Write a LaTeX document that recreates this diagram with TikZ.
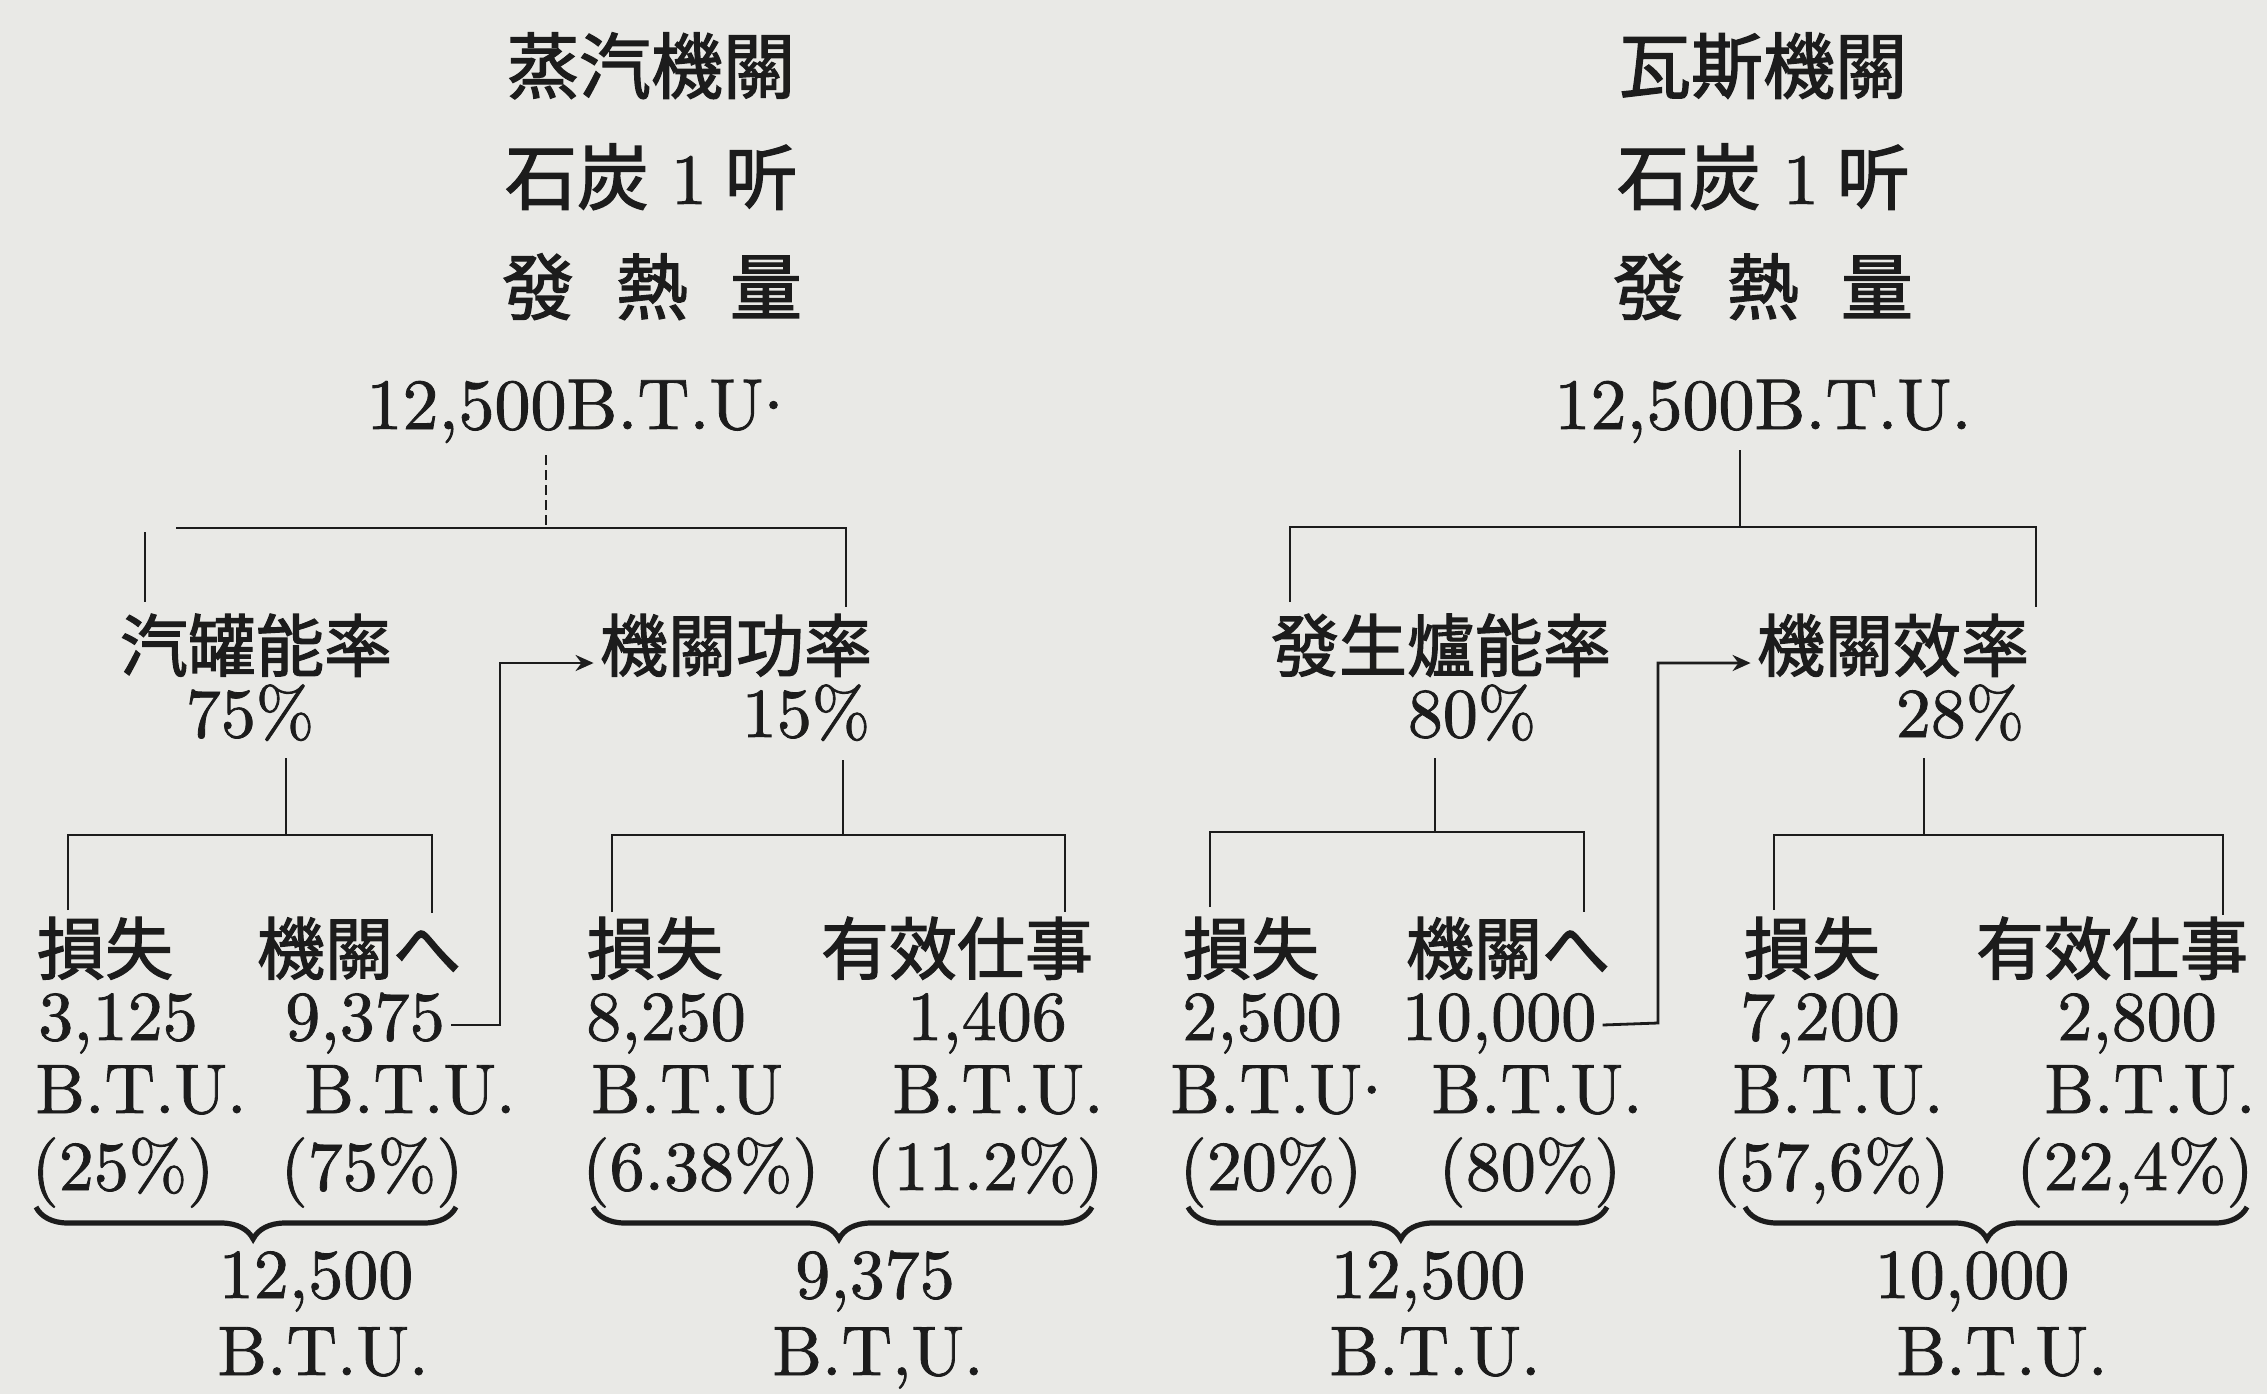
\documentclass[tikz,border=0pt]{standalone}
\usepackage{fontspec}
\setmainfont{lmroman10-regular.otf}[FakeBold=1.2]
\newfontfamily\cjk[FakeBold=1.8]{Noto Sans CJK JP}
\usetikzlibrary{arrows.meta,decorations.pathreplacing}
\definecolor{paper}{RGB}{233,233,230}
\definecolor{ink}{RGB}{28,28,28}
\newcommand\midpt{\raisebox{0.28em}{.}}
\newcommand\onelb{\hspace{11pt}{\normalfont\fontsize{36}{40}\selectfont 1}\hspace{9pt}}
\begin{document}
\begin{tikzpicture}[x=0.5pt,y=-0.5pt,
  tt/.style={anchor=base,inner sep=0pt,text=ink,font=\cjk\fontsize{36}{40}\selectfont},
  kj/.style={anchor=base,inner sep=0pt,text=ink,font=\cjk\fontsize{34}{40}\selectfont},
  lt/.style={anchor=base,inner sep=0pt,text=ink,font=\fontsize{35}{40}\selectfont},
  ht/.style={anchor=base,inner sep=0pt,text=ink,font=\fontsize{36}{40}\selectfont},
  ln/.style={draw=ink,line width=1.4pt},
  dl/.style={draw=ink,line width=1.2pt,dash pattern=on 5pt off 2.5pt},
  arr/.style={draw=ink,line width=1.4pt,-{Stealth[length=9pt,width=8pt]}},
  brc/.style={draw=ink,line width=2.6pt,decorate,decoration={brace,mirror,amplitude=16pt,aspect=#1}}]
\fill[paper] (0,0) rectangle (2267,1394);
\useasboundingbox (0,0) rectangle (2267,1394);

% ---------- left block ----------
\node[tt] (lt1) at (651,93) {蒸汽機關};
\node[tt] (lt2) at (651,204) {石炭\onelb 听};
\node[tt] (lt3) at (652,314) {發\hspace{21pt}熱\hspace{21pt}量};
\node[ht] (lsrc) at (575,429) {12,500B.T.U\midpt};

\node[kj] (lboil) at (256,671) {汽罐能率};
\node[lt] (lboilp) at (250,737) {75\%};
\node[kj] (leng) at (736,671) {機關功率};
\node[lt] (lengp) at (806,737) {15\%};

\node[kj] (la1) at (105,974) {損失};
\node[kj] (la2) at (359,974) {機關へ};
\node[lt] (la1n) at (118,1040) {3,125};
\node[lt] (la2n) at (365,1040) {9,375};
\node[lt] (la1u) at (141,1113) {B.T.U.};
\node[lt] (la2u) at (410,1113) {B.T.U.};
\node[lt] (la1p) at (123,1190) {(25\%)};
\node[lt] (la2p) at (372,1190) {(75\%)};
\node[lt] (lat) at (316,1298) {12,500};
\node[lt] (latu) at (323,1375) {B.T.U.};

\node[kj] (lb1) at (655,974) {損失};
\node[kj] (lb2) at (957,974) {有效仕事};
\node[lt] (lb1n) at (666,1040) {8,250};
\node[lt] (lb2n) at (987,1040) {1,406};
\node[lt] (lb1u) at (687,1113) {B.T.U};
\node[lt] (lb2u) at (998,1113) {B.T.U.};
\node[lt] (lb1p) at (701,1190) {(6.38\%)};
\node[lt] (lb2p) at (985,1190) {(11.2\%)};
\node[lt] (lbt) at (875,1298) {9,375};
\node[lt] (lbtu) at (878,1375) {B.T,U.};

% ---------- right block ----------
\node[tt] (rt1) at (1763,93) {瓦斯機關};
\node[tt] (rt2) at (1763,204) {石炭\onelb 听};
\node[tt] (rt3) at (1763,314) {發\hspace{21pt}熱\hspace{21pt}量};
\node[ht] (rsrc) at (1763,429) {12,500B.T.U.};

\node[kj] (rgen) at (1441,671) {發生爐能率};
\node[lt] (rgenp) at (1472,737) {80\%};
\node[kj] (reng) at (1893,671) {機關效率};
\node[lt] (rengp) at (1960,737) {28\%};

\node[kj] (ra1) at (1251,974) {損失};
\node[kj] (ra2) at (1508,974) {機關へ};
\node[lt] (ra1n) at (1262,1040) {2,500};
\node[lt] (ra2n) at (1499,1040) {10,000};
\node[lt] (ra1u) at (1276,1113) {B.T.U\midpt};
\node[lt] (ra2u) at (1537,1113) {B.T.U.};
\node[lt] (ra1p) at (1271,1190) {(20\%)};
\node[lt] (ra2p) at (1530,1190) {(80\%)};
\node[lt] (rat) at (1428,1298) {12,500};
\node[lt] (ratu) at (1435,1375) {B.T.U.};

\node[kj] (rb1) at (1812,974) {損失};
\node[kj] (rb2) at (2112,974) {有效仕事};
\node[lt] (rb1n) at (1820,1040) {7,200};
\node[lt] (rb2n) at (2137,1040) {2,800};
\node[lt] (rb1u) at (1838,1113) {B.T.U.};
\node[lt] (rb2u) at (2150,1113) {B.T.U.};
\node[lt] (rb1p) at (1831,1190) {(57,6\%)};
\node[lt] (rb2p) at (2135,1190) {(22,4\%)};
\node[lt] (rbt) at (1972,1298) {10,000};
\node[lt] (rbtu) at (2002,1375) {B.T.U.};

% ---------- connector coordinates ----------
% left top
\coordinate (lAt) at (546,455);  \coordinate (lAm) at (546,528);
\coordinate (lAl) at (176,528);  \coordinate (lAr) at (846,528);
\coordinate (lAlt) at (145,532); \coordinate (lAlb) at (145,602);
\coordinate (lArb) at (846,607);
% left lower-left
\coordinate (lBt) at (286,758);  \coordinate (lBm) at (286,835);
\coordinate (lBl) at (68,835);   \coordinate (lBr) at (432,835);
\coordinate (lBlb) at (68,910);  \coordinate (lBrb) at (432,913);
% left lower-right
\coordinate (lCt) at (843,760);  \coordinate (lCm) at (843,835);
\coordinate (lCl) at (612,835);  \coordinate (lCr) at (1065,835);
\coordinate (lClb) at (612,912); \coordinate (lCrb) at (1065,912);
% left route
\coordinate (lR1) at (500,1025); \coordinate (lR2) at (500,663);
% right top
\coordinate (rAt) at (1740,450); \coordinate (rAm) at (1740,527);
\coordinate (rAl) at (1290,527); \coordinate (rAr) at (2036,527);
\coordinate (rAlb) at (1290,602); \coordinate (rArb) at (2036,607);
% right lower-left
\coordinate (rBt) at (1435,758); \coordinate (rBm) at (1435,832);
\coordinate (rBl) at (1210,832); \coordinate (rBr) at (1584,832);
\coordinate (rBlb) at (1210,907); \coordinate (rBrb) at (1584,912);
% right lower-right
\coordinate (rCt) at (1924,758); \coordinate (rCm) at (1924,835);
\coordinate (rCl) at (1774,835); \coordinate (rCr) at (2223,835);
\coordinate (rClb) at (1774,910); \coordinate (rCrb) at (2223,915);
% right route
\coordinate (rR1) at (1658,1023); \coordinate (rR2) at (1658,663);
% braces
\coordinate (bAl) at (36,1207);   \coordinate (bAr) at (456,1207);
\coordinate (bBl) at (593,1207);  \coordinate (bBr) at (1092,1207);
\coordinate (bCl) at (1188,1207); \coordinate (bCr) at (1607,1207);
\coordinate (bDl) at (1745,1207); \coordinate (bDr) at (2247,1207);

% ---------- connectors ----------
\draw[dl] (lAt) -- (lAm);
\draw[ln] (lAl) -- (lAr) -- (lArb);
\draw[ln] (lAlt) -- (lAlb);
\draw[ln] (lBt) -- (lBm);
\draw[ln] (lBlb) -- (lBl) -- (lBr) -- (lBrb);
\draw[ln] (lCt) -- (lCm);
\draw[ln] (lClb) -- (lCl) -- (lCr) -- (lCrb);
\draw[arr] ([shift={(6,-15)}]la2n.base east) -- (lR1) -- (lR2) -- ([xshift=-3pt]leng.west |- lR2);

\draw[ln] (rAt) -- (rAm);
\draw[ln] (rAlb) -- (rAl) -- (rAr) -- (rArb);
\draw[ln] (rBt) -- (rBm);
\draw[ln] (rBlb) -- (rBl) -- (rBr) -- (rBrb);
\draw[ln] (rCt) -- (rCm);
\draw[ln] (rClb) -- (rCl) -- (rCr) -- (rCrb);
\draw[arr] ([shift={(6,-15)}]ra2n.base east) -- (rR1) -- (rR2) -- ([xshift=-3pt]reng.west |- rR2);

\draw[brc=0.517] (bAl) -- (bAr);
\draw[brc=0.493] (bBl) -- (bBr);
\draw[brc=0.508] (bCl) -- (bCr);
\draw[brc=0.482] (bDl) -- (bDr);
\end{tikzpicture}
\end{document}
